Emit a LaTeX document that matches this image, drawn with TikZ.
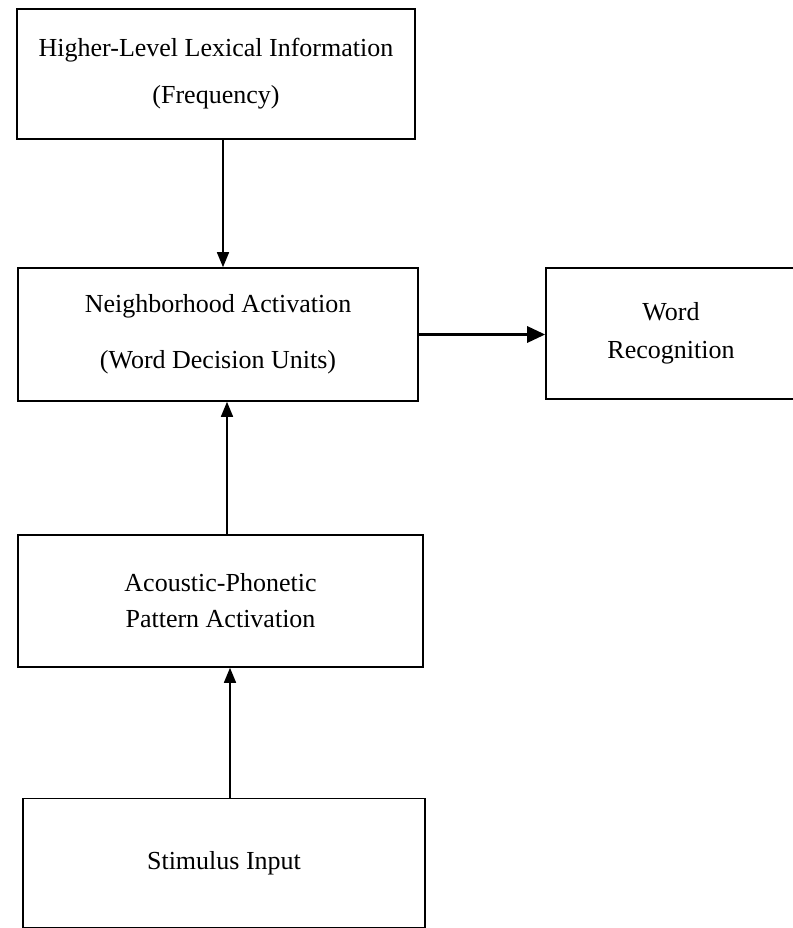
\documentclass[tikz,border=0pt]{standalone}
\usepackage{fontspec}
\setmainfont{Liberation Serif}
\usetikzlibrary{arrows.meta,positioning}
\begin{document}
\begin{tikzpicture}[x=1pt,y=-1pt,
  box/.style={draw,line width=1.6pt,inner sep=0pt,align=center},
  arr/.style={line width=1.6pt,-{Triangle[length=15pt,width=12pt]}},
  harr/.style={line width=3pt,-{Triangle[length=18pt,width=16pt]}}]
\useasboundingbox (0,0) rectangle (792,928);
\node[box,minimum width=398pt,minimum height=130pt,font=\fontsize{26}{47}\selectfont] (b1) at (216,74)
  {Higher-Level Lexical Information\\(Frequency)};
\node[box,minimum width=400pt,minimum height=133pt,font=\fontsize{26}{56}\selectfont] (b2) at (218,334.5)
  {Neighborhood Activation\\(Word Decision Units)};
\node[box,minimum width=250pt,minimum height=131pt,font=\fontsize{26}{38}\selectfont] (b3) at (671,333.5)
  {Word\\Recognition};
\node[box,minimum width=405pt,minimum height=132pt,font=\fontsize{26}{36}\selectfont] (b4) at (220.5,601)
  {Acoustic-Phonetic\\Pattern Activation};
\node[box,minimum width=402pt,minimum height=129pt,font=\fontsize{26}{30}\selectfont] (b5) at (224,863)
  {Stimulus Input};
\draw[arr] ([xshift=7pt]b1.south) -- ([xshift=7pt]b1.south |- b2.north);
\draw[arr] ([xshift=6.5pt]b4.north) -- ([xshift=6.5pt]b4.north |- b2.south);
\draw[arr] ([xshift=6pt]b5.north) -- ([xshift=6pt]b5.north |- b4.south);
\draw[harr] (b2.east) -- (b2.east -| b3.west);
\end{tikzpicture}
\end{document}
